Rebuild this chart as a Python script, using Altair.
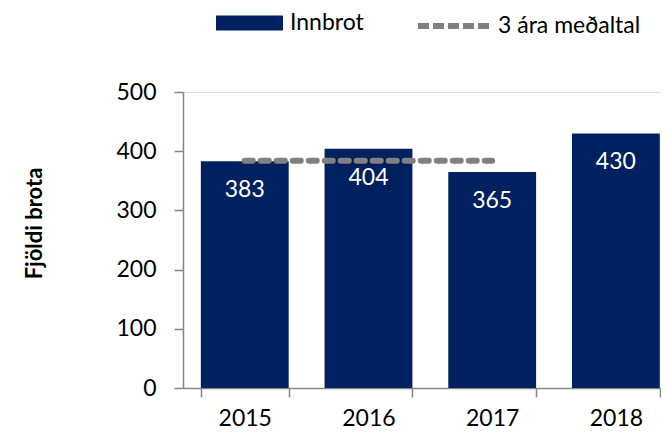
import altair as alt
import pandas as pd

years = ["2015", "2016", "2017", "2018"]
innbrot = [383, 404, 365, 430]
avg_years = ["2015", "2016", "2017"]
avg_values = [384, 384, 384]

bar_df = pd.DataFrame({"year": years, "value": innbrot, "series": ["Innbrot"] * len(years)})
avg_df = pd.DataFrame({"year": avg_years, "value": avg_values, "series": ["3 ára meðaltal"] * len(avg_years)})

FONT = "Lato"
GRAY = "#868686"

xscale = alt.Scale(domain=years, paddingInner=0.29, paddingOuter=0.077, align=0.937)
yscale = alt.Scale(domain=[0, 500], nice=False)

x_axis = alt.Axis(title=None, labelAngle=0, tickBand="extent", tickSize=9, labelPadding=10,
                  labelFontSize=23, labelFont=FONT, labelColor="#000000",
                  domainColor=GRAY, tickColor=GRAY, domainWidth=1.5, tickWidth=1.5, grid=False)
y_axis = alt.Axis(title="Fjöldi brota", values=[0, 100, 200, 300, 400, 500], tickSize=9, labelPadding=18,
                  labelFontSize=23, labelFont=FONT, labelColor="#000000",
                  domainColor=GRAY, tickColor=GRAY, domainWidth=1.5, tickWidth=1.5, grid=False,
                  titleFont=FONT, titleFontSize=22, titleFontWeight="bold", titleColor="#000000",
                  titleAngle=270, titleX=-149, titleY=131, titleAlign="center", titleBaseline="middle")

bars = alt.Chart(bar_df).mark_bar().encode(
    x=alt.X("year:N", scale=xscale, axis=x_axis, sort=years),
    y=alt.Y("value:Q", scale=yscale, axis=y_axis),
    fill=alt.Fill("series:N", scale=alt.Scale(domain=["Innbrot"], range=["#002060"]),
                  legend=alt.Legend(title=None, orient="none", legendX=33, legendY=-102.5,
                                    symbolType="M-1,-0.224L1,-0.224L1,0.224L-1,0.224Z",
                                    symbolSize=4489, symbolStrokeWidth=0, padding=0,
                                    labelFont=FONT, labelFontSize=23, labelColor="#000000",
                                    labelOffset=7)),
)

labels = alt.Chart(bar_df).mark_text(color="white", font=FONT, fontSize=23, baseline="middle", dy=29).encode(
    x=alt.X("year:N", scale=xscale, sort=years),
    y=alt.Y("value:Q", scale=yscale),
    text=alt.Text("value:Q"),
)

line = alt.Chart(avg_df).mark_line(strokeWidth=6, strokeDash=[8, 8], strokeCap="round").encode(
    x=alt.X("year:N", scale=xscale, sort=years),
    y=alt.Y("value:Q", scale=yscale),
    stroke=alt.Stroke("series:N", scale=alt.Scale(domain=["3 ára meðaltal"], range=["#808080"]),
                      legend=alt.Legend(title=None, orient="none", legendX=232, legendY=-106,
                                        symbolType="stroke", symbolSize=5476, symbolStrokeWidth=6,
                                        symbolDash=[11, 4], padding=0,
                                        labelFont=FONT, labelFontSize=23, labelColor="#000000",
                                        labelOffset=3)),
)

chart = alt.layer(bars, line, labels).resolve_scale(fill="independent", stroke="independent").properties(
    width=478, height=296,
    autosize=alt.AutoSizeParams(type="none"),
    padding={"left": 175, "top": 84, "right": 0, "bottom": 42},
).configure_view(stroke=None).configure(background="white")

chart.save("out.html", embed_options={"renderer": "svg", "actions": False})
